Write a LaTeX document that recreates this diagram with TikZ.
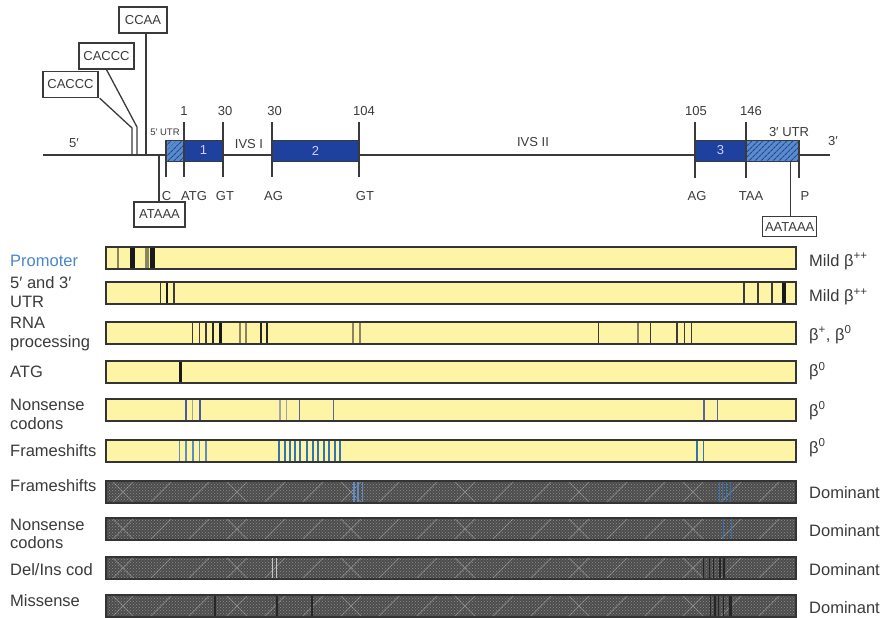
\documentclass[tikz,border=0pt]{standalone}
\usepackage{fontspec}
\setmainfont{Liberation Sans}
\usetikzlibrary{patterns,patterns.meta,calc}
\definecolor{txt}{HTML}{3A3A3A}
\definecolor{yelfill}{HTML}{FEF4A6}
\definecolor{gblue}{HTML}{1E409E}
\definecolor{hblue}{HTML}{5A8CCB}
\definecolor{hstripe}{HTML}{23449A}
\definecolor{dkgray}{HTML}{4C4C4C}
\definecolor{dotgray}{HTML}{8E8E8E}
\definecolor{olivec}{HTML}{8A8460}
\definecolor{nblue}{HTML}{4B5AA8}
\definecolor{fblue}{HTML}{3374B0}
\definecolor{lfblue}{HTML}{5C8DBE}
\definecolor{lgray}{HTML}{A0A2AA}
\definecolor{promblue}{HTML}{4A86C8}
\newcommand\mutmarks[4]{\foreach \xx in {#4} {\draw[#3] (\xx,#1) -- (\xx,#2);}}
\begin{document}
\begin{tikzpicture}[x=1pt,y=-1pt,
  lab/.style={font=\fontsize{16.5}{19}\selectfont, text=txt, inner sep=0pt, anchor=base west},
  glab/.style={font=\fontsize{13}{15}\selectfont, text=txt, inner sep=0pt, anchor=base},
  seqbox/.style={draw=txt, line width=1.3pt, fill=white, font=\fontsize{13}{15}\selectfont, text=txt, inner sep=0pt, minimum height=26pt},
  exonbox/.style={draw=txt, line width=1pt, fill=gblue, text=white!82!blue, font=\fontsize{13}{15}\selectfont, inner sep=0pt, minimum height=21pt},
  utrbox/.style={draw=txt, line width=1pt, fill=hblue, postaction={pattern={Lines[angle=45,distance=4pt,line width=1.1pt]}, pattern color=hstripe}, inner sep=0pt, minimum height=21pt},
  gline/.style={draw=txt, line width=1.3pt},
  tick/.style={draw=txt, line width=1.3pt},
  barline/.style={draw=txt!90!black, line width=1.4pt},
  faint/.style={draw=white, opacity=0.25, line width=1pt}
]
\useasboundingbox (0,0) rectangle (883,618);

% ---------------- gene structure ----------------
\draw[gline] (43,155) -- (830,155);
\node[glab] (five) at (74,147) {5′};
\node[glab] (three) at (833,145) {3′};
\node[glab] (ivs1) at (249,148) {IVS I};
\node[glab] (ivs2) at (533,146) {IVS II};

\node[utrbox, minimum width=18pt] (utr5) at (175,150.5) {};
\node[exonbox, minimum width=39pt] (ex1) at (203.5,150.5) {1};
\node[exonbox, minimum width=87pt] (ex2) at (315.5,150.5) {2};
\node[exonbox, minimum width=51pt] (ex3) at (720.5,150.5) {3};
\node[utrbox, minimum width=53pt] (utr3) at (772.5,150.5) {};

\draw[tick] (166,140) -- (166,177);
\draw[tick] (184,122) -- (184,177);
\draw[tick] (223,122) -- (223,177);
\draw[tick] (272,122) -- (272,177);
\draw[tick] (359,122) -- (359,177);
\draw[tick] (695,122) -- (695,178);
\draw[tick] (746,122) -- (746,178);
\draw[tick] (799,140) -- (799,178);

\node[glab] (n1) at (184,115) {1};
\node[glab] (n30a) at (225,115) {30};
\node[glab] (n30b) at (274.5,115) {30};
\node[glab] (n104) at (364,115) {104};
\node[glab] (n105) at (696,115) {105};
\node[glab] (n146) at (751,115) {146};
\node[glab, font=\fontsize{9.5}{11}\selectfont] (u5) at (165,135) {5′ UTR};
\node[glab] (u3) at (789,136.7) {3′ UTR};

\node[glab] (sC) at (166.5,200) {C};
\node[glab] (sATG) at (194,200) {ATG};
\node[glab] (sGT1) at (225,200) {GT};
\node[glab] (sAG1) at (273.5,200) {AG};
\node[glab] (sGT2) at (365,200) {GT};
\node[glab] (sAG2) at (697,200) {AG};
\node[glab] (sTAA) at (751,200) {TAA};
\node[glab] (sP) at (805,200) {P};

% promoter boxes
\node[seqbox, minimum width=48pt] (ccaa) at (143,20) {CCAA};
\node[seqbox, minimum width=55pt] (cac2) at (106.5,56) {CACCC};
\node[seqbox, minimum width=55pt] (cac1) at (70.5,84.5) {CACCC};
\node[seqbox, minimum width=51pt, minimum height=25pt] (ataaa) at (159.5,214.5) {ATAAA};
\node[seqbox, minimum width=54pt, minimum height=20pt] (aataaa) at (789.7,226.7) {AATAAA};

\coordinate (p3) at (146,155);
\coordinate (k2) at (137,127);
\coordinate (p2) at (137,155);
\coordinate (k1) at (132,128);
\coordinate (p1) at (132,155);
\coordinate (pa) at (159,155);
\coordinate (pb) at (790.7,161);
\draw[gline] (ccaa.south -| p3) -- (p3);
\draw[gline] (cac2.south) -- (k2) -- (p2);
\draw[gline] ($(cac1.south east)+(1,0)$) -- (k1) -- (p1);
\draw[gline] (ataaa.north -| pa) -- (pa);
\draw[gline] (aataaa.north -| pb) -- (pb);

% ---------------- yellow bars ----------------
\foreach \rt/\rb in {247/269, 282/304, 322/344, 361/383, 399/421, 440/462} {
  \fill[fill=yelfill] (106,\rt) rectangle (796,\rb);
}
% row 1 promoter
\mutmarks{247}{269}{olivec,line width=1.6pt}{118}
\mutmarks{247}{269}{black!90,line width=5pt}{132}
\mutmarks{247}{269}{olivec,line width=4pt}{147.3}
\mutmarks{247}{269}{black!90,line width=5pt}{152.5}
% row 2 UTR
\mutmarks{282}{304}{txt,line width=1.3pt}{160.7,174,744,758,772}
\mutmarks{282}{304}{black!90,line width=2.6pt}{167}
\mutmarks{282}{304}{black!90,line width=3.6pt}{784}
% row 3 RNA processing
\mutmarks{322}{344}{txt,line width=1.5pt}{192.7,199.3,206,598.3,650.7,684.3,691.7}
\mutmarks{322}{344}{black!85,line width=2.5pt}{213,261,267}
\mutmarks{322}{344}{black!90,line width=3pt}{220.5}
\mutmarks{322}{344}{olivec,line width=1.6pt}{240,246,352.7,360,637.7}
\mutmarks{322}{344}{txt,line width=2.2pt}{676.7}
% row 4 ATG
\mutmarks{361}{383}{black!90,line width=2.5pt}{180.5}
% row 5 nonsense
\mutmarks{399}{421}{nblue,line width=1.6pt}{186,200}
\mutmarks{399}{421}{lgray,line width=1.5pt}{192.7,280,286.7}
\mutmarks{399}{421}{nblue!70!gray,line width=1.3pt}{299.3,333.3,704,717.3}
% row 6 frameshifts
\mutmarks{440}{462}{lfblue,line width=1.6pt}{179.3,186,192.7,199.3,206}
\mutmarks{440}{462}{fblue,line width=1.8pt}{279.3,285,290,295,300,306.7,313.3,318.3,324,329,335,340}
\mutmarks{440}{462}{fblue,line width=1.6pt}{696.7,703.3}
\foreach \rt/\rb in {247/269, 282/304, 322/344, 361/383, 399/421, 440/462} {
  \draw[barline] (106,\rt) rectangle (796,\rb);
}

% ---------------- dark bars ----------------
\foreach \rt/\rb in {481/503, 518/540, 557/579, 595/617} {
  \fill[fill=dkgray] (106,\rt) rectangle (796,\rb);
  \fill[pattern=crosshatch dots, pattern color=dotgray] (106,\rt) rectangle (796,\rb);
  \begin{scope}
    \clip (106,\rt) rectangle (796,\rb);
    \foreach \i in {0,...,18} {
      \draw[faint] (112+\i*38,\rb) -- ++(22,-22);
    }
    \foreach \i in {0,3,...,18} {
      \draw[faint] (134+\i*38,\rb) -- ++(-22,-22);
    }
  \end{scope}
}
% row 7 frameshifts
\mutmarks{481}{503}{fblue,line width=1.5pt}{719.3,722.7,726.7,730.7}
\mutmarks{481}{503}{lfblue,line width=1.4pt}{354,358,362.7}
% row 8 nonsense
\mutmarks{518}{540}{fblue,line width=1.5pt}{723.3,731.7}
% row 9 del/ins
\mutmarks{557}{579}{black!85,line width=1.2pt}{703.3,709.3,713.3,720,724}
\mutmarks{557}{579}{gray!45,line width=1pt}{272,276}
% row 10 missense
\mutmarks{595}{617}{black!85,line width=1.2pt}{215,277,312,710.7,715,718.3,723.3}
\mutmarks{595}{617}{black!85,line width=2.5pt}{730.7}
\foreach \rt/\rb in {481/503, 518/540, 557/579, 595/617} {
  \draw[barline] (106,\rt) rectangle (796,\rb);
}

% ---------------- left labels ----------------
\node[lab, text=promblue] (lprom) at (10,266) {Promoter};
\node[lab] (lutra) at (10,288) {5′ and 3′};
\node[lab] (lutrb) at (10,307) {UTR};
\node[lab] (lrnaa) at (10,328) {RNA};
\node[lab] (lrnab) at (10,347) {processing};
\node[lab] (latg) at (10,377.7) {ATG};
\node[lab] (lnona) at (10,410) {Nonsense};
\node[lab] (lnonb) at (10,429) {codons};
\node[lab] (lfs) at (10,456) {Frameshifts};
\node[lab] (lfs2) at (10,491.7) {Frameshifts};
\node[lab] (lnon2a) at (10,530) {Nonsense};
\node[lab] (lnon2b) at (10,548.5) {codons};
\node[lab] (ldel) at (10,575) {Del/Ins cod};
\node[lab] (lmis) at (10,606.7) {Missense};

% ---------------- right labels ----------------
\node[lab] (r1) at (809,266) {Mild β\textsuperscript{++}};
\node[lab] (r2) at (809,301.7) {Mild β\textsuperscript{++}};
\node[lab] (r3) at (809,340) {β\textsuperscript{+}, β\textsuperscript{0}};
\node[lab] (r4) at (809,376.7) {β\textsuperscript{0}};
\node[lab] (r5) at (809,416) {β\textsuperscript{0}};
\node[lab] (r6) at (809,453) {β\textsuperscript{0}};
\node[lab] (r7) at (809,498) {Dominant};
\node[lab] (r8) at (809,536) {Dominant};
\node[lab] (r9) at (809,575) {Dominant};
\node[lab] (r10) at (809,613) {Dominant};
\end{tikzpicture}
\end{document}
